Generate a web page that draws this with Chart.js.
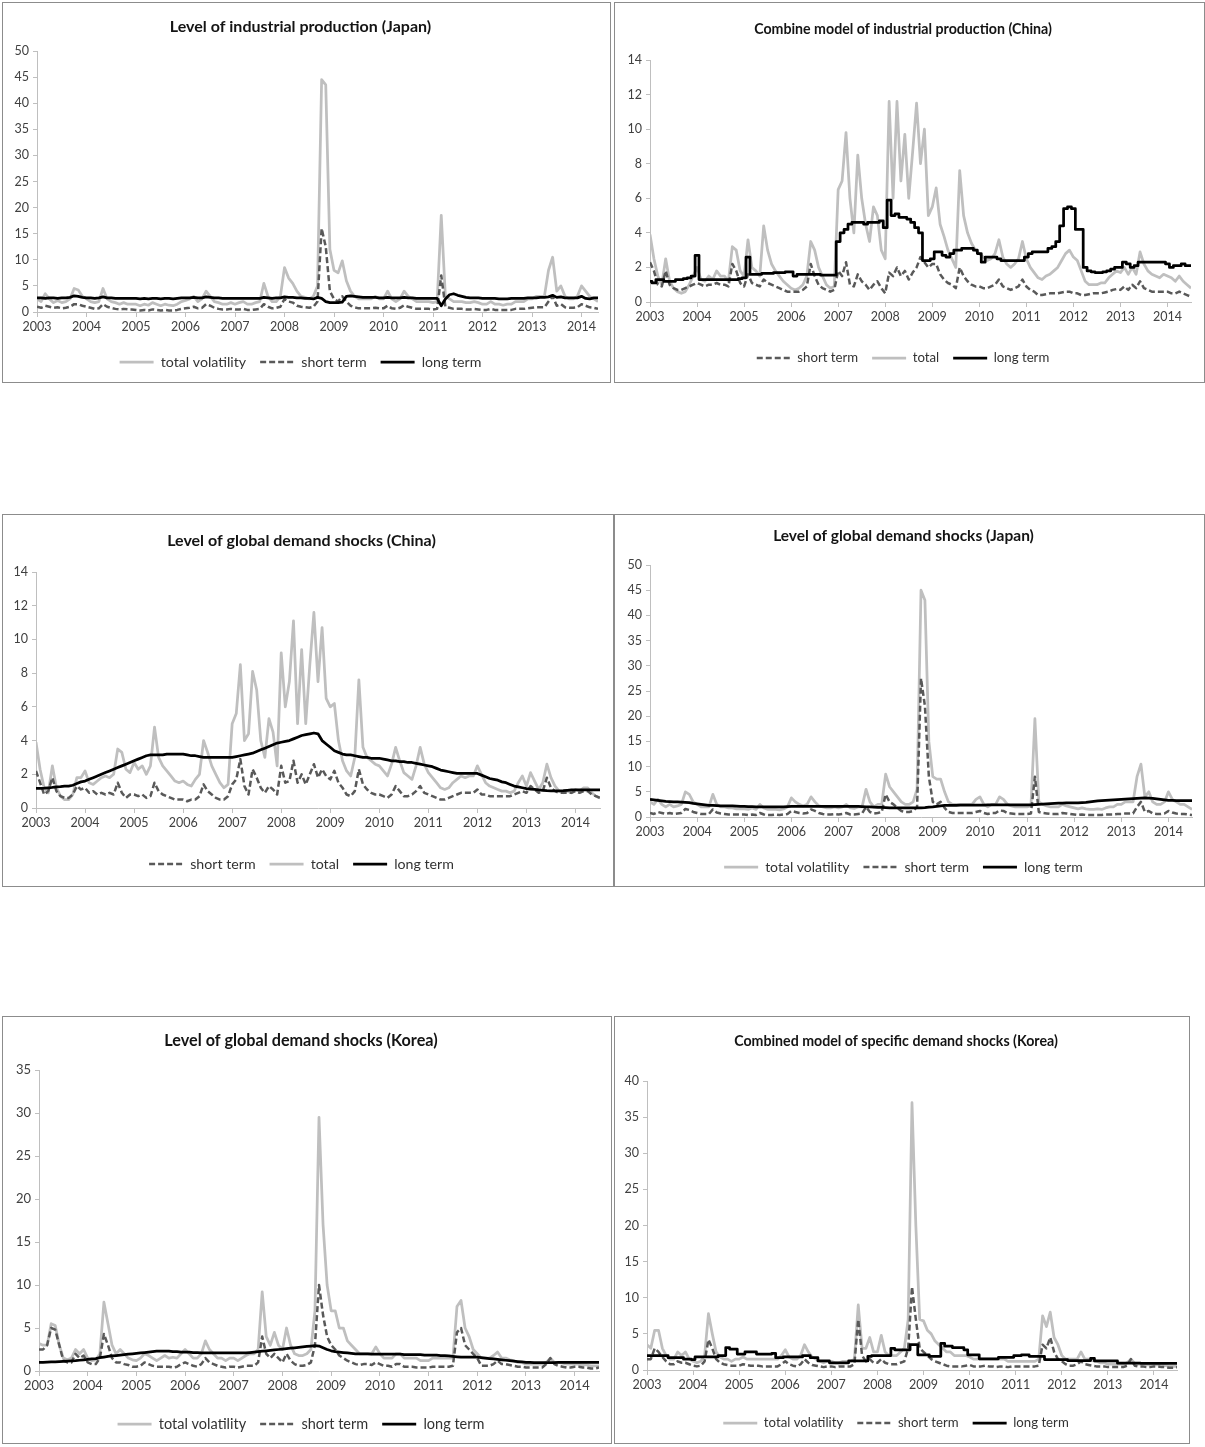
<!DOCTYPE html>
<html>
<head>
<meta charset="utf-8">
<script src="https://cdn.jsdelivr.net/npm/chart.js@4.4.0/dist/chart.umd.min.js"></script>
<style>
    body { margin: 0; background: #fff; width: 1205px; height: 1447px; position: relative; overflow: hidden; }
    .panel { position: absolute; box-sizing: border-box; border: 1px solid #8c8c8c; background: #fff; }
    .panel canvas { position: absolute; left: 0; top: 0; }
</style>
</head>
<body>
<div class="panel" style="left:2px;top:2px;width:609px;height:381px"><canvas id="c1" width="607" height="379"></canvas></div>
<div class="panel" style="left:614px;top:2px;width:591px;height:381px"><canvas id="c2" width="589" height="379"></canvas></div>
<div class="panel" style="left:2px;top:514px;width:612px;height:373px"><canvas id="c3" width="610" height="371"></canvas></div>
<div class="panel" style="left:614px;top:514px;width:591px;height:373px"><canvas id="c4" width="589" height="371"></canvas></div>
<div class="panel" style="left:2px;top:1016px;width:610px;height:428px"><canvas id="c5" width="608" height="426"></canvas></div>
<div class="panel" style="left:614px;top:1016px;width:576px;height:428px"><canvas id="c6" width="574" height="426"></canvas></div>

<script>
// monthly observations starting Jan 2003
const START_YEAR = 2003;
const MONTH_COUNT = 139;
const months = [];
for (let i = 0; i < MONTH_COUNT; i++) months.push(START_YEAR + i / 12);
const yearTicks = [2003, 2004, 2005, 2006, 2007, 2008, 2009, 2010, 2011, 2012, 2013, 2014];

const ticks50 = [0, 5, 10, 15, 20, 25, 30, 35, 40, 45, 50];
const ticks14 = [0, 2, 4, 6, 8, 10, 12, 14];
const ticks35 = [0, 5, 10, 15, 20, 25, 30, 35];
const ticks40 = [0, 5, 10, 15, 20, 25, 30, 35, 40];

// Level of industrial production (Japan) - Jan 2003 .. May 2014
const ipJapanTotal = [
    2.5, 2.0, 3.5, 2.5, 1.8, 2.2, 1.8, 2.0, 2.5, 4.5, 4.2, 3.0,
    2.5, 2.0, 1.8, 2.0, 4.5, 2.5, 2.0, 1.8, 1.5, 1.8, 1.5, 1.5,
    1.5, 1.2, 1.5, 1.3, 1.8, 1.5, 1.2, 1.5, 1.3, 1.2, 1.5, 2.0,
    2.2, 2.5, 3.0, 2.0, 2.5, 4.0, 3.0, 2.0, 1.8, 1.5, 1.5, 1.8,
    1.5, 1.8, 2.0, 1.5, 1.5, 1.8, 2.0, 5.5, 3.0, 2.0, 2.0, 3.0,
    8.5, 6.5, 5.5, 4.0, 3.0, 2.8, 2.5, 3.0, 5.0, 44.5, 43.5, 12.0,
    8.0, 7.5, 9.8, 6.0, 4.0, 3.0, 2.5, 2.5, 2.5, 2.5, 3.0, 2.5,
    2.5, 4.0, 2.5, 2.0, 2.5, 4.0, 3.0, 2.5, 2.0, 2.0, 2.0, 2.0,
    1.8, 2.0, 18.5, 3.0, 2.5, 2.0, 2.0, 2.0, 1.8, 1.8, 2.0, 1.8,
    1.5, 1.5, 2.0, 1.5, 1.5, 1.3, 1.5, 1.5, 2.0, 2.0, 2.0, 2.5,
    2.5, 3.0, 3.0, 3.0, 8.0, 10.5, 4.0, 5.0, 3.0, 2.5, 2.5, 3.0,
    5.0, 4.0, 3.0, 2.5, 2.0
];
const ipJapanShort = [
    1.0, 0.8, 1.2, 1.0, 0.8, 0.9, 0.7, 0.8, 1.0, 1.5, 1.5, 1.2,
    1.0, 0.8, 0.6, 0.7, 1.5, 1.0, 0.8, 0.6, 0.5, 0.6, 0.5, 0.5,
    0.4, 0.3, 0.4, 0.3, 0.5, 0.4, 0.3, 0.4, 0.3, 0.3, 0.4, 0.6,
    0.7, 0.8, 1.0, 0.7, 0.8, 1.5, 1.2, 0.8, 0.6, 0.5, 0.5, 0.6,
    0.5, 0.5, 0.6, 0.4, 0.4, 0.5, 0.6, 1.5, 1.0, 0.7, 0.8, 1.0,
    2.5, 2.0, 1.8, 1.2, 1.0, 0.9, 0.8, 1.0, 2.0, 16.0, 12.5, 4.0,
    2.5, 2.0, 3.0, 2.0, 1.2, 0.9, 0.7, 0.7, 0.7, 0.7, 0.8, 0.7,
    0.7, 1.2, 0.7, 0.6, 0.8, 1.3, 1.0, 0.8, 0.6, 0.6, 0.6, 0.6,
    0.5, 0.6, 7.0, 1.0, 0.8, 0.6, 0.6, 0.6, 0.5, 0.5, 0.6, 0.5,
    0.4, 0.4, 0.6, 0.4, 0.4, 0.4, 0.4, 0.4, 0.6, 0.6, 0.6, 0.7,
    0.8, 0.9, 0.9, 0.9, 2.0, 3.0, 1.2, 1.5, 0.9, 0.8, 0.8, 0.9,
    1.5, 1.2, 0.9, 0.8, 0.6
];
const ipJapanLong = [
    2.7, 2.7, 2.6, 2.7, 2.7, 2.6, 2.7, 2.7, 2.8, 3.1, 3.0, 2.8,
    2.7, 2.7, 2.6, 2.7, 2.9, 2.7, 2.7, 2.6, 2.6, 2.6, 2.6, 2.6,
    2.6, 2.5, 2.6, 2.5, 2.6, 2.6, 2.5, 2.6, 2.6, 2.5, 2.6, 2.7,
    2.7, 2.7, 2.8, 2.7, 2.7, 2.9, 2.8, 2.7, 2.7, 2.6, 2.6, 2.6,
    2.6, 2.6, 2.6, 2.6, 2.6, 2.6, 2.6, 2.8, 2.7, 2.6, 2.7, 2.7,
    2.9, 2.8, 2.8, 2.7, 2.7, 2.6, 2.6, 2.5, 2.8, 2.6, 2.0, 1.8,
    1.8, 1.8, 1.9, 3.0, 3.1, 3.0, 2.9, 2.8, 2.8, 2.8, 2.8, 2.7,
    2.7, 2.8, 2.7, 2.7, 2.7, 2.8, 2.7, 2.7, 2.6, 2.6, 2.6, 2.6,
    2.6, 2.6, 1.2, 2.5, 3.3, 3.5, 3.2, 3.0, 2.8, 2.7, 2.7, 2.7,
    2.6, 2.6, 2.6, 2.6, 2.5, 2.5, 2.5, 2.6, 2.6, 2.6, 2.6, 2.7,
    2.7, 2.7, 2.8, 2.8, 2.9, 3.2, 2.8, 2.9, 2.7, 2.7, 2.7, 2.7,
    3.0, 2.6, 2.5, 2.7, 2.7
];

// Combine model of industrial production (China) - Jan 2003 .. Jul 2014
const ipChinaShort = [
    2.3, 1.8, 1.0, 0.9, 1.8, 1.0, 0.8, 0.7, 0.7, 0.8, 0.9, 1.0,
    1.1, 1.0, 0.9, 1.0, 1.0, 1.1, 1.0, 1.0, 0.9, 2.2, 1.8, 1.1,
    0.9, 1.6, 1.1, 1.0, 0.9, 1.3, 1.1, 1.0, 0.9, 0.8, 0.7, 0.6,
    0.6, 0.6, 0.6, 0.7, 0.9, 2.2, 1.5, 1.0, 0.8, 0.7, 0.6, 0.7,
    1.8, 1.5, 2.3, 1.0, 0.9, 1.6, 1.2, 1.0, 0.7, 1.0, 1.2, 0.8,
    0.5, 1.7, 1.5, 2.0, 1.5, 1.8, 1.3, 1.7, 2.0, 2.6, 2.3, 2.0,
    2.2, 2.2, 1.6, 1.3, 1.1, 1.0, 0.8, 2.0, 1.5, 1.2, 1.0, 0.9,
    0.9, 0.8, 0.8, 0.9, 1.0, 1.3, 0.9, 0.8, 0.7, 0.8, 0.9, 1.3,
    0.9, 0.7, 0.6, 0.4, 0.4, 0.45, 0.5, 0.5, 0.5, 0.55, 0.6, 0.6,
    0.5, 0.5, 0.4, 0.4, 0.45, 0.5, 0.5, 0.5, 0.55, 0.6, 0.7, 0.75,
    0.7, 0.9, 0.7, 1.0, 0.8, 1.2, 0.8, 0.7, 0.6, 0.6, 0.6, 0.6,
    0.6, 0.5, 0.5, 0.6, 0.5, 0.4, 0.3
];
const ipChinaTotal = [
    3.9, 2.5, 1.5, 1.0, 2.5, 1.2, 0.8, 0.6, 0.5, 0.6, 1.0, 1.5,
    2.0, 1.3, 1.2, 1.5, 1.3, 1.8, 1.5, 1.5, 1.2, 3.2, 3.0, 1.8,
    1.5, 3.6, 2.0, 1.8, 1.5, 4.4, 3.0, 2.2, 1.8, 1.5, 1.2, 1.0,
    0.8, 0.7, 0.8, 1.0, 1.5, 3.5, 3.0, 2.0, 1.5, 1.0, 0.8, 0.9,
    6.5, 7.0, 9.8, 6.0, 4.0, 8.5, 6.0, 4.5, 3.5, 5.5, 5.0, 3.0,
    2.5, 11.6, 6.0, 11.6, 7.0, 9.7, 6.0, 8.7, 11.5, 8.0, 10.0, 5.0,
    5.5, 6.6, 4.5, 3.8, 3.0, 2.5, 2.0, 7.6, 5.0, 4.0, 3.4, 3.0,
    2.8, 2.6, 2.4, 2.5, 2.8, 3.6, 2.6, 2.2, 2.0, 2.2, 2.5, 3.5,
    2.5, 2.0, 1.7, 1.4, 1.3, 1.5, 1.6, 1.8, 2.0, 2.4, 2.8, 3.0,
    2.6, 2.4, 1.8, 1.2, 1.0, 1.0, 1.0, 1.1, 1.1, 1.4, 1.6, 1.8,
    1.7, 2.0, 1.6, 2.0, 1.6, 2.9, 2.2, 1.8, 1.6, 1.5, 1.4, 1.6,
    1.5, 1.4, 1.2, 1.5, 1.2, 1.0, 0.8
];
const ipChinaLong = [
    1.2, 1.1, 1.3, 1.3, 1.2, 1.2, 1.2, 1.3, 1.3, 1.35, 1.4, 1.5,
    2.7, 1.3, 1.3, 1.3, 1.3, 1.3, 1.3, 1.3, 1.3, 1.3, 1.3, 1.35,
    1.4, 2.6, 1.6, 1.6, 1.6, 1.65, 1.65, 1.65, 1.7, 1.7, 1.7, 1.75,
    1.75, 1.5, 1.6, 1.6, 1.6, 1.6, 1.6, 1.6, 1.55, 1.55, 1.55, 1.55,
    3.5, 4.0, 4.2, 4.5, 4.6, 4.6, 4.6, 4.5, 4.6, 4.6, 4.6, 4.7,
    4.3, 5.9, 5.0, 5.1, 4.9, 4.9, 4.8, 4.6, 4.3, 4.0, 2.4, 2.4,
    2.5, 2.9, 2.9, 2.7, 2.6, 2.8, 3.0, 3.0, 3.1, 3.1, 3.1, 3.0,
    2.8, 2.3, 2.6, 2.6, 2.6, 2.5, 2.4, 2.4, 2.4, 2.4, 2.4, 2.4,
    2.6, 2.8, 2.9, 2.9, 2.9, 2.9, 3.1, 3.2, 3.5, 4.4, 5.4, 5.5,
    5.4, 4.2, 4.2, 2.0, 1.8, 1.75, 1.7, 1.7, 1.75, 1.8, 1.9, 2.0,
    2.0, 2.3, 2.2, 2.0, 2.1, 2.3, 2.3, 2.3, 2.3, 2.3, 2.3, 2.3,
    2.2, 2.0, 2.1, 2.1, 2.2, 2.1, 2.1
];

// Level of global demand shocks (China)
const gdChinaShort = [
    2.2, 1.5, 0.8, 1.0, 1.8, 1.0, 0.7, 0.6, 0.6, 0.8, 1.3, 1.1,
    1.2, 0.9, 1.0, 0.8, 0.9, 0.8, 0.9, 0.8, 1.5, 0.9, 0.6, 0.8,
    0.8, 0.7, 0.8, 0.6, 0.7, 1.5, 1.0, 0.8, 0.7, 0.6, 0.5, 0.5,
    0.5, 0.4, 0.5, 0.5, 0.7, 1.4, 1.0, 0.8, 0.6, 0.5, 0.5, 0.7,
    1.4, 1.7, 2.9, 1.3, 0.8, 2.3, 1.8, 1.2, 0.9, 1.3, 1.1, 0.8,
    2.5, 1.5, 1.6, 2.8, 1.5, 2.0, 1.4, 2.0, 2.6, 1.8, 2.3, 1.9,
    1.7, 2.2, 1.5, 1.2, 0.8, 0.7, 1.0, 2.3, 1.4, 1.1, 0.9, 0.8,
    0.8, 0.7, 0.6, 0.8, 1.3, 1.0, 0.7, 0.7, 0.8, 1.0, 1.3, 0.9,
    0.8, 0.7, 0.6, 0.5, 0.5, 0.6, 0.7, 0.8, 0.9, 0.9, 0.9, 0.9,
    1.1, 0.8, 0.8, 0.7, 0.7, 0.7, 0.7, 0.7, 0.7, 0.8, 0.9, 1.0,
    0.9, 1.3, 1.1, 0.9, 1.0, 1.8, 1.2, 1.0, 0.9, 0.9, 0.9, 0.9,
    1.0, 0.9, 1.0, 1.0, 0.8, 0.7, 0.6
];
const gdChinaTotal = [
    3.9, 2.3, 1.2, 0.9, 2.5, 1.2, 0.7, 0.5, 0.5, 0.8, 1.8, 1.8,
    2.2, 1.5, 1.4, 1.6, 1.8, 1.9, 1.8, 2.0, 3.5, 3.3, 2.3, 2.1,
    2.7, 2.3, 2.5, 2.0, 2.5, 4.8, 3.0, 2.5, 2.2, 1.9, 1.6, 1.5,
    1.6, 1.4, 1.3, 1.7, 2.0, 4.0, 3.3, 2.5, 2.0, 1.5, 1.2, 1.4,
    5.0, 5.6, 8.5, 4.0, 4.4, 8.1, 7.0, 4.0, 3.0, 5.3, 4.5, 2.5,
    9.2, 6.0, 7.5, 11.1, 5.0, 9.4, 5.0, 8.5, 11.6, 7.5, 10.7, 6.5,
    6.0, 6.2, 4.0, 2.8, 2.2, 1.9, 3.0, 7.6, 3.6, 3.0, 2.8, 2.6,
    2.5, 2.2, 1.9, 2.6, 3.6, 2.8, 2.1, 1.9, 1.7, 2.5, 3.6, 2.6,
    2.1, 1.8, 1.5, 1.2, 1.1, 1.2, 1.5, 1.7, 1.9, 1.8, 1.9, 1.9,
    2.5, 2.0, 1.5, 1.3, 1.2, 1.1, 1.0, 1.0, 0.9, 1.0, 1.5, 1.9,
    1.3, 2.1, 1.6, 1.1, 1.5, 2.6, 1.8, 1.3, 1.0, 0.9, 1.0, 0.9,
    1.1, 1.0, 1.2, 1.2, 0.9, 0.7, 0.6
];
const gdChinaLong = [
    1.17, 1.17, 1.18, 1.2, 1.22, 1.25, 1.27, 1.3, 1.3, 1.35, 1.45, 1.55,
    1.6, 1.7, 1.8, 1.9, 2.0, 2.1, 2.2, 2.3, 2.4, 2.5, 2.6, 2.7,
    2.8, 2.9, 3.0, 3.1, 3.15, 3.15, 3.15, 3.15, 3.2, 3.2, 3.2, 3.2,
    3.2, 3.15, 3.1, 3.1, 3.05, 3.0, 3.0, 3.0, 3.0, 3.0, 3.0, 3.0,
    3.0, 3.05, 3.1, 3.15, 3.2, 3.25, 3.35, 3.45, 3.55, 3.65, 3.75, 3.85,
    3.9, 3.95, 4.0, 4.1, 4.2, 4.3, 4.35, 4.4, 4.45, 4.4, 4.0, 3.8,
    3.6, 3.4, 3.3, 3.2, 3.15, 3.15, 3.1, 3.05, 3.0, 3.0, 2.95, 2.95,
    2.95, 2.9, 2.85, 2.8, 2.8, 2.75, 2.75, 2.7, 2.7, 2.65, 2.6, 2.55,
    2.5, 2.45, 2.35, 2.25, 2.2, 2.15, 2.1, 2.05, 2.05, 2.05, 2.05, 2.05,
    2.05, 1.95, 1.85, 1.75, 1.7, 1.65, 1.55, 1.5, 1.4, 1.3, 1.25, 1.2,
    1.15, 1.12, 1.1, 1.07, 1.05, 1.03, 1.02, 1.02, 1.02, 1.03, 1.05, 1.07,
    1.07, 1.07, 1.08, 1.08, 1.08, 1.08, 1.08
];

// Level of global demand shocks (Japan)
const gdJapanTotal = [
    3.0, 2.5, 3.5, 2.5, 2.0, 2.5, 2.0, 2.2, 2.5, 5.0, 4.5, 3.0,
    2.5, 2.0, 2.0, 2.0, 4.5, 2.5, 2.0, 2.0, 1.8, 1.8, 1.6, 1.6,
    1.6, 1.5, 1.8, 1.5, 2.5, 1.8, 1.5, 1.5, 1.5, 1.4, 1.6, 2.0,
    3.8, 3.0, 2.5, 2.2, 2.5, 4.0, 3.0, 2.2, 2.0, 1.8, 1.8, 2.0,
    1.8, 2.0, 2.5, 1.8, 1.7, 2.0, 2.0, 5.5, 3.0, 2.0, 2.5, 2.5,
    8.5, 6.0, 5.0, 4.0, 3.0, 2.5, 2.5, 3.0, 5.5, 45.0, 43.0, 15.0,
    8.0, 7.5, 7.5, 5.0, 3.0, 2.5, 2.5, 2.5, 2.5, 2.5, 2.5, 3.5,
    4.0, 2.5, 2.0, 2.5, 2.5, 4.0, 3.5, 2.5, 2.2, 2.0, 2.0, 2.0,
    2.0, 2.2, 19.5, 3.0, 2.5, 2.2, 2.0, 2.0, 2.0, 2.5, 2.2, 2.0,
    1.8, 1.6, 1.8, 1.6, 1.5, 1.5, 1.6, 1.5, 1.8, 2.0, 2.0, 2.5,
    2.5, 3.0, 3.0, 3.0, 8.0, 10.5, 4.0, 5.0, 3.0, 2.5, 2.5, 3.0,
    5.0, 3.5, 3.0, 2.5, 2.5, 2.0, 1.5
];
const gdJapanShort = [
    0.8, 0.6, 1.0, 0.8, 0.6, 0.8, 0.6, 0.7, 0.8, 1.6, 1.4, 1.0,
    0.8, 0.6, 0.6, 0.6, 1.5, 0.9, 0.7, 0.6, 0.5, 0.5, 0.5, 0.5,
    0.5, 0.4, 0.5, 0.4, 0.8, 0.5, 0.4, 0.4, 0.5, 0.4, 0.5, 0.6,
    1.2, 1.0, 0.8, 0.7, 0.8, 1.5, 1.2, 0.8, 0.6, 0.5, 0.5, 0.6,
    0.5, 0.6, 0.8, 0.5, 0.5, 0.6, 0.7, 2.0, 1.0, 0.7, 0.8, 1.0,
    4.5, 3.0, 2.5, 1.8, 1.2, 1.0, 1.0, 1.2, 2.0, 27.5, 22.0, 8.0,
    3.0, 2.5, 3.0, 1.8, 1.0, 0.8, 0.8, 0.8, 0.8, 0.8, 0.8, 1.0,
    1.2, 0.8, 0.6, 0.8, 0.8, 1.3, 1.2, 0.8, 0.7, 0.6, 0.6, 0.6,
    0.6, 0.7, 8.0, 1.0, 0.8, 0.7, 0.6, 0.6, 0.6, 0.8, 0.7, 0.6,
    0.5, 0.4, 0.5, 0.4, 0.4, 0.4, 0.4, 0.4, 0.5, 0.5, 0.5, 0.6,
    0.6, 0.7, 0.7, 0.7, 2.0, 3.0, 1.0, 1.2, 0.7, 0.6, 0.6, 0.7,
    1.2, 0.9, 0.7, 0.6, 0.6, 0.5, 0.4
];
const gdJapanLong = [
    3.5, 3.4, 3.3, 3.2, 3.1, 3.05, 3.0, 3.0, 2.95, 2.9, 2.85, 2.7,
    2.6, 2.5, 2.4, 2.3, 2.3, 2.25, 2.2, 2.2, 2.2, 2.2, 2.15, 2.1,
    2.1, 2.05, 2.05, 2.0, 2.0, 2.0, 2.0, 2.0, 2.0, 2.0, 2.0, 2.05,
    2.1, 2.1, 2.1, 2.1, 2.1, 2.1, 2.1, 2.1, 2.1, 2.1, 2.1, 2.1,
    2.1, 2.1, 2.1, 2.1, 2.1, 2.1, 2.05, 2.0, 2.0, 1.95, 1.9, 1.9,
    1.85, 1.8, 1.8, 1.8, 1.8, 1.8, 1.8, 1.8, 1.8, 1.8, 1.85, 1.95,
    2.0, 2.1, 2.2, 2.3, 2.3, 2.3, 2.3, 2.35, 2.35, 2.35, 2.35, 2.35,
    2.35, 2.35, 2.4, 2.4, 2.4, 2.4, 2.4, 2.4, 2.4, 2.4, 2.4, 2.4,
    2.4, 2.4, 2.45, 2.5, 2.55, 2.6, 2.65, 2.7, 2.75, 2.75, 2.8, 2.8,
    2.8, 2.8, 2.85, 2.9, 3.0, 3.1, 3.2, 3.25, 3.3, 3.35, 3.4, 3.45,
    3.5, 3.55, 3.6, 3.65, 3.7, 3.75, 3.8, 3.75, 3.7, 3.6, 3.5, 3.4,
    3.3, 3.3, 3.25, 3.25, 3.25, 3.25, 3.25
];

// Level of global demand shocks (Korea)
const gdKoreaTotal = [
    3.2, 3.0, 3.0, 5.5, 5.3, 3.0, 1.5, 1.3, 1.5, 2.5, 2.0, 2.5,
    1.5, 1.2, 1.3, 2.0, 8.0, 5.5, 3.0, 2.0, 2.5, 2.0, 1.5, 1.3,
    1.2, 1.5, 2.0, 1.8, 1.5, 1.2, 1.5, 1.8, 1.5, 1.6, 1.5, 2.0,
    2.5, 2.0, 1.5, 1.5, 2.0, 3.5, 2.5, 2.0, 1.5, 1.5, 1.2, 1.5,
    1.5, 1.2, 1.5, 1.8, 2.0, 2.0, 2.5, 9.2, 4.0, 3.0, 4.5, 3.0,
    2.5, 5.0, 3.0, 2.0, 1.8, 1.8, 2.0, 2.5, 7.0, 29.5, 17.0, 10.0,
    7.0, 7.0, 5.0, 5.0, 3.5, 3.0, 2.5, 2.0, 2.0, 2.0, 2.0, 2.8,
    2.0, 1.5, 1.5, 1.5, 2.0, 2.0, 1.5, 1.5, 1.5, 1.5, 1.2, 1.2,
    1.2, 1.5, 1.5, 1.5, 1.5, 1.5, 1.5, 7.5, 8.2, 5.0, 4.0, 2.5,
    2.0, 1.5, 1.5, 1.5, 1.8, 2.2, 1.5, 1.5, 1.3, 1.2, 1.0, 1.0,
    0.8, 0.8, 0.8, 0.8, 0.8, 1.0, 1.5, 1.0, 1.0, 0.9, 0.8, 0.8,
    0.8, 0.8, 0.7, 0.7, 0.6, 0.6, 0.6
];
const gdKoreaShort = [
    2.5, 2.5, 3.0, 5.0, 4.8, 3.0, 1.2, 1.0, 1.0, 2.0, 1.5, 1.8,
    1.0, 0.8, 0.8, 1.5, 4.3, 3.0, 1.5, 1.0, 1.0, 0.8, 0.7, 0.5,
    0.5, 0.6, 1.0, 0.8, 0.6, 0.5, 0.5, 0.5, 0.5, 0.4, 0.5, 0.8,
    1.0, 0.8, 0.6, 0.5, 0.8, 1.5, 1.0, 0.8, 0.6, 0.5, 0.4, 0.5,
    0.5, 0.4, 0.5, 0.6, 0.6, 0.6, 1.0, 4.0, 2.0, 1.5, 2.0, 1.5,
    1.0, 2.0, 1.2, 0.8, 0.6, 0.6, 0.7, 1.0, 3.0, 10.0, 6.5, 4.0,
    3.0, 2.5, 1.8, 1.5, 1.2, 1.0, 0.8, 0.7, 0.8, 0.8, 0.7, 1.0,
    0.8, 0.6, 0.6, 0.5, 0.8, 0.8, 0.5, 0.5, 0.5, 0.4, 0.4, 0.4,
    0.4, 0.5, 0.5, 0.5, 0.5, 0.5, 0.6, 4.5, 5.0, 3.0, 2.5, 2.0,
    1.5, 0.6, 0.6, 0.6, 0.8, 1.2, 0.8, 0.8, 0.7, 0.6, 0.5, 0.5,
    0.4, 0.4, 0.4, 0.4, 0.4, 0.8, 1.5, 0.8, 0.6, 0.5, 0.4, 0.4,
    0.5, 0.5, 0.4, 0.4, 0.3, 0.3, 0.4
];
const gdKoreaLong = [
    1.0, 1.0, 1.02, 1.05, 1.07, 1.1, 1.12, 1.15, 1.18, 1.2, 1.25, 1.3,
    1.35, 1.4, 1.45, 1.55, 1.62, 1.7, 1.75, 1.8, 1.85, 1.9, 1.95, 2.0,
    2.05, 2.1, 2.15, 2.2, 2.25, 2.3, 2.3, 2.3, 2.3, 2.25, 2.25, 2.2,
    2.2, 2.2, 2.15, 2.15, 2.1, 2.1, 2.1, 2.1, 2.1, 2.1, 2.1, 2.1,
    2.1, 2.1, 2.1, 2.1, 2.15, 2.2, 2.25, 2.3, 2.35, 2.4, 2.45, 2.5,
    2.55, 2.6, 2.65, 2.7, 2.75, 2.8, 2.85, 2.9, 2.95, 2.9, 2.7, 2.5,
    2.35, 2.25, 2.2, 2.15, 2.1, 2.05, 2.0, 2.0, 2.0, 2.0, 1.95, 1.95,
    1.95, 1.95, 1.95, 1.95, 1.95, 1.95, 1.9, 1.9, 1.9, 1.9, 1.9, 1.85,
    1.85, 1.85, 1.85, 1.8, 1.8, 1.75, 1.7, 1.65, 1.6, 1.6, 1.6, 1.6,
    1.6, 1.55, 1.5, 1.45, 1.4, 1.35, 1.3, 1.25, 1.2, 1.15, 1.1, 1.05,
    1.0, 1.0, 0.98, 0.97, 0.97, 0.97, 0.97, 0.98, 1.0, 1.0, 1.0, 1.0,
    1.0, 1.0, 1.0, 1.0, 1.0, 1.0, 1.0
];

// Combined model of specific demand shocks (Korea)
const sdKoreaTotal = [
    3.5, 3.0, 5.5, 5.5, 3.0, 2.0, 1.5, 1.5, 2.5, 2.0, 2.5, 1.5,
    1.2, 1.0, 1.2, 2.0, 7.8, 5.0, 2.5, 1.8, 1.5, 1.5, 1.2, 1.5,
    1.5, 1.8, 1.5, 1.5, 1.5, 1.5, 1.5, 1.5, 1.5, 1.5, 1.5, 2.0,
    2.8, 1.8, 1.5, 1.5, 2.0, 3.5, 2.5, 1.8, 1.5, 1.2, 1.0, 1.2,
    1.2, 1.0, 1.0, 1.2, 1.2, 1.2, 1.5, 9.0, 3.0, 3.0, 4.5, 2.5,
    2.5, 4.8, 2.5, 2.0, 2.0, 2.0, 2.5, 3.0, 7.0, 37.0, 20.0, 7.0,
    6.8, 5.5, 5.0, 4.0, 3.5, 3.0, 2.5, 2.5, 2.0, 2.0, 2.0, 2.0,
    1.8, 1.5, 1.5, 1.5, 1.5, 1.5, 1.5, 1.5, 1.5, 1.5, 1.2, 1.2,
    1.2, 1.2, 1.2, 1.2, 1.2, 1.2, 1.5, 7.5, 6.0, 8.0, 4.5, 3.5,
    2.0, 1.5, 1.5, 1.5, 1.5, 2.5, 1.5, 1.5, 1.3, 1.2, 1.0, 1.0,
    0.8, 0.8, 0.8, 0.8, 0.8, 1.0, 1.5, 0.9, 0.8, 0.8, 0.7, 0.7,
    0.7, 0.7, 0.6, 0.6, 0.5, 0.5, 0.5
];
const sdKoreaShort = [
    1.5, 1.5, 3.0, 2.5, 1.8, 1.2, 0.8, 0.8, 1.2, 1.0, 1.0, 0.8,
    0.6, 0.5, 0.6, 1.2, 4.2, 3.0, 1.5, 1.0, 0.8, 0.7, 0.6, 0.6,
    0.6, 0.8, 0.7, 0.6, 0.6, 0.6, 0.5, 0.5, 0.5, 0.5, 0.5, 0.8,
    1.2, 0.8, 0.6, 0.5, 0.8, 1.5, 1.0, 0.7, 0.6, 0.5, 0.4, 0.5,
    0.5, 0.4, 0.5, 0.5, 0.5, 0.5, 0.8, 7.0, 2.0, 1.2, 1.5, 1.0,
    1.0, 1.5, 1.0, 0.8, 0.8, 0.8, 1.0, 1.2, 3.0, 11.5, 7.0, 3.0,
    2.5, 2.0, 1.5, 1.2, 1.0, 0.8, 0.6, 0.5, 0.5, 0.5, 0.5, 0.6,
    0.7, 0.5, 0.5, 0.5, 0.6, 0.5, 0.5, 0.4, 0.5, 0.5, 0.4, 0.5,
    0.5, 0.5, 0.5, 0.5, 0.5, 0.5, 0.6, 3.5, 3.0, 4.5, 2.5, 1.5,
    1.2, 0.8, 0.6, 0.6, 0.8, 1.2, 0.8, 0.7, 0.6, 0.5, 0.5, 0.5,
    0.4, 0.4, 0.4, 0.4, 0.4, 0.6, 1.5, 0.6, 0.5, 0.5, 0.4, 0.4,
    0.5, 0.5, 0.4, 0.4, 0.3, 0.3, 0.4
];
const sdKoreaLong = [
    2.0, 2.0, 2.0, 2.0, 2.0, 2.0, 1.7, 1.7, 1.7, 1.7, 1.5, 1.5,
    1.45, 1.8, 1.8, 1.8, 1.8, 1.8, 1.8, 2.0, 2.0, 3.1, 2.9, 2.9,
    2.2, 2.2, 2.5, 2.5, 2.5, 2.2, 2.2, 2.2, 2.2, 2.3, 1.7, 1.7,
    1.8, 1.8, 1.8, 1.8, 1.8, 2.0, 2.0, 1.7, 1.7, 1.25, 1.25, 1.25,
    1.0, 1.0, 1.0, 1.0, 1.0, 1.25, 1.25, 1.25, 1.25, 1.25, 1.9, 2.0,
    2.0, 2.0, 2.0, 2.0, 3.0, 2.8, 2.8, 2.8, 2.8, 3.5, 3.5, 2.1,
    2.1, 2.1, 1.9, 1.9, 1.9, 3.7, 3.3, 3.3, 3.1, 3.1, 3.1, 2.8,
    2.1, 2.1, 2.1, 1.55, 1.55, 1.55, 1.55, 1.55, 1.75, 1.75, 1.75, 1.75,
    2.0, 2.0, 2.1, 2.1, 1.9, 1.9, 1.9, 1.9, 1.45, 1.45, 1.45, 1.45,
    1.45, 1.45, 1.3, 1.3, 1.3, 1.3, 1.3, 1.3, 1.6, 1.25, 1.25, 1.25,
    1.25, 1.25, 1.25, 0.95, 0.95, 0.95, 0.95, 0.95, 0.95, 0.9, 0.9, 0.9,
    0.9, 0.9, 0.9, 0.9, 0.9, 0.9, 0.9
];

const FONT = "Lato, 'Open Sans', sans-serif";
const TITLE_LH = 1.2;
const LEGEND_PAD = 14;

const STYLES = {
    total: { borderColor: '#bfbfbf', borderWidth: 2.75, borderDash: [], order: 2 },
    short: { borderColor: '#595959', borderWidth: 2.5, borderDash: [6, 3], order: 1 },
    long: { borderColor: '#000000', borderWidth: 2.75, borderDash: [], order: 0 }
};

function makePanel(canvasId, cfg) {
    const canvas = document.getElementById(canvasId);
    const W = canvas.width;
    const H = canvas.height;
    const titleSize = cfg.fonts.title;
    const legendSize = cfg.fonts.legend;
    const tickSize = cfg.fonts.tick;
    const titleH = titleSize * TITLE_LH;
    const padBottom = H - 10 - legendSize / 2 - cfg.legendY;
    const legendTop = H - padBottom - (legendSize + LEGEND_PAD + 10);
    const xAxisH = legendTop - cfg.plot.bottom;

    const datasets = cfg.series.map(s => Object.assign({
        label: s.label,
        data: s.values.map((v, i) => ({ x: months[i], y: v })),
        pointRadius: 0,
        tension: 0,
        fill: false,
        borderJoinStyle: 'round',
        stepped: s.stepped || false
    }, STYLES[s.kind]));

    return new Chart(canvas, {
        type: 'line',
        data: { datasets },
        options: {
            responsive: false,
            animation: false,
            devicePixelRatio: 1,
            layout: { padding: { top: 0, left: 0, right: W - cfg.plot.right, bottom: padBottom } },
            plugins: {
                title: {
                    display: true,
                    text: cfg.title,
                    color: '#141414',
                    font: { family: FONT, size: titleSize, weight: 'bold', lineHeight: TITLE_LH },
                    padding: { top: cfg.titleY - titleH / 2, bottom: cfg.plot.top - cfg.titleY - titleH / 2 }
                },
                legend: {
                    position: 'bottom',
                    labels: {
                        usePointStyle: true,
                        pointStyle: 'line',
                        pointStyleWidth: 34,
                        padding: LEGEND_PAD,
                        color: '#333333',
                        font: { family: FONT, size: legendSize },
                        sort: (a, b) => a.datasetIndex - b.datasetIndex,
                        generateLabels: chart => Chart.defaults.plugins.legend.labels.generateLabels(chart).map(item => {
                            const ds = chart.data.datasets[item.datasetIndex];
                            item.lineDash = ds.borderDash;
                            item.lineWidth = ds.borderWidth;
                            item.strokeStyle = ds.borderColor;
                            return item;
                        })
                    }
                },
                tooltip: { enabled: false }
            },
            scales: {
                x: {
                    type: 'linear',
                    min: 2003,
                    max: cfg.xMax,
                    afterBuildTicks: s => { s.ticks = yearTicks.map(v => ({ value: v })); },
                    afterFit: s => { s.height = xAxisH; },
                    ticks: { callback: v => String(v), color: '#404040', font: { family: FONT, size: tickSize }, padding: 2, maxRotation: 0, autoSkip: false },
                    grid: { drawOnChartArea: false, tickLength: 5, color: '#bfbfbf' },
                    border: { color: '#bfbfbf' }
                },
                y: {
                    min: 0,
                    max: cfg.yTicks[cfg.yTicks.length - 1],
                    afterBuildTicks: s => { s.ticks = cfg.yTicks.map(v => ({ value: v })); },
                    afterFit: s => { s.width = cfg.plot.left; },
                    ticks: { color: '#404040', font: { family: FONT, size: tickSize }, padding: 4 },
                    grid: { drawOnChartArea: false, tickLength: 4, color: '#bfbfbf' },
                    border: { color: '#bfbfbf' }
                }
            }
        }
    });
}

makePanel('c1', {
    title: 'Level of industrial production (Japan)',
    yTicks: ticks50, xMax: 2014 + 4 / 12,
    plot: { left: 34, top: 48, right: 595, bottom: 309 },
    titleY: 24, legendY: 359,
    fonts: { title: 16, legend: 14.2, tick: 12.5 },
    series: [
        { label: 'total volatility', kind: 'total', values: ipJapanTotal },
        { label: 'short term', kind: 'short', values: ipJapanShort },
        { label: 'long term', kind: 'long', values: ipJapanLong }
    ]
});

makePanel('c2', {
    title: 'Combine model of industrial production (China)',
    yTicks: ticks14, xMax: 2014.5,
    plot: { left: 35, top: 57, right: 576, bottom: 299 },
    titleY: 26, legendY: 355,
    fonts: { title: 14.2, legend: 13.2, tick: 12.5 },
    series: [
        { label: 'short term', kind: 'short', values: ipChinaShort },
        { label: 'total', kind: 'total', values: ipChinaTotal },
        { label: 'long term', kind: 'long', values: ipChinaLong, stepped: 'middle' }
    ]
});

makePanel('c3', {
    title: 'Level of global demand shocks (China)',
    yTicks: ticks14, xMax: 2014.5,
    plot: { left: 33, top: 57, right: 597, bottom: 293 },
    titleY: 26, legendY: 349,
    fonts: { title: 16, legend: 14.2, tick: 12.5 },
    series: [
        { label: 'short term', kind: 'short', values: gdChinaShort },
        { label: 'total', kind: 'total', values: gdChinaTotal },
        { label: 'long term', kind: 'long', values: gdChinaLong }
    ]
});

makePanel('c4', {
    title: 'Level of global demand shocks (Japan)',
    yTicks: ticks50, xMax: 2014.5,
    plot: { left: 35, top: 50, right: 577, bottom: 302 },
    titleY: 21, legendY: 352,
    fonts: { title: 15.5, legend: 14, tick: 12.5 },
    series: [
        { label: 'total volatility', kind: 'total', values: gdJapanTotal },
        { label: 'short term', kind: 'short', values: gdJapanShort },
        { label: 'long term', kind: 'long', values: gdJapanLong }
    ]
});

makePanel('c5', {
    title: 'Level of global demand shocks (Korea)',
    yTicks: ticks35, xMax: 2014.5,
    plot: { left: 36, top: 53, right: 596, bottom: 354 },
    titleY: 24, legendY: 407,
    fonts: { title: 16.2, legend: 14.5, tick: 13 },
    series: [
        { label: 'total volatility', kind: 'total', values: gdKoreaTotal },
        { label: 'short term', kind: 'short', values: gdKoreaShort },
        { label: 'long term', kind: 'long', values: gdKoreaLong }
    ]
});

makePanel('c6', {
    title: 'Combined model of specific demand shocks (Korea)',
    yTicks: ticks40, xMax: 2014.5,
    plot: { left: 32, top: 64, right: 562, bottom: 353 },
    titleY: 24, legendY: 406,
    fonts: { title: 14.2, legend: 13.2, tick: 12.5 },
    series: [
        { label: 'total volatility', kind: 'total', values: sdKoreaTotal },
        { label: 'short term', kind: 'short', values: sdKoreaShort },
        { label: 'long term', kind: 'long', values: sdKoreaLong, stepped: 'middle' }
    ]
});
</script>
</body>
</html>
